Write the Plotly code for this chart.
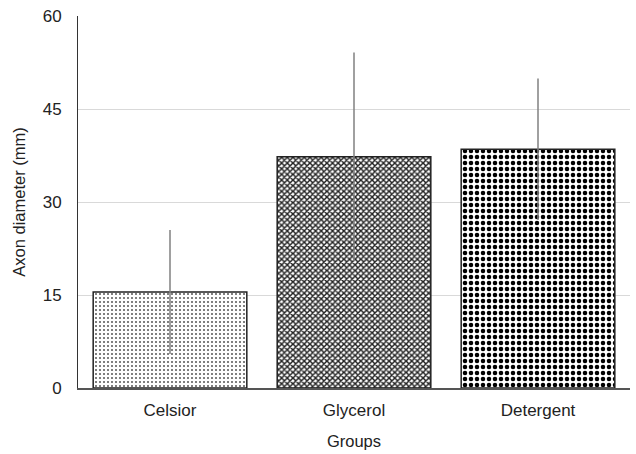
import plotly.graph_objects as go

categories = ["Celsior", "Glycerol", "Detergent"]
values = [15.5, 37.3, 38.5]
errors = [10.0, 16.8, 11.4]
y_ticks = [0, 15, 30, 45, 60]

shapes = [".", "x", "."]
fg = ["#555555", "#222222", "#000000"]
sizes = [4, 4, 6]
solid = [0.2, 0.6, 0.45]

fig = go.Figure()
for i, c in enumerate(categories):
    fig.add_trace(go.Bar(
        x=[c], y=[values[i]],
        error_y=dict(type="data", array=[errors[i]], color="#808080", thickness=1.5, width=0),
        marker=dict(color="white", line=dict(color="#222222", width=1.5),
                    pattern=dict(shape=shapes[i], fgcolor=fg[i], bgcolor="white",
                                 size=sizes[i], solidity=solid[i], fillmode="replace")),
        showlegend=False,
    ))

fig.update_layout(
    width=636, height=454,
    margin=dict(l=78, r=6, t=16, b=66),
    paper_bgcolor="white", plot_bgcolor="white",
    bargap=0.165, barmode="group",
    font=dict(family="Liberation Sans, Arial, sans-serif", size=17, color="#222222"),
)
fig.update_yaxes(
    range=[0, 60], tickvals=y_ticks, showgrid=True, gridcolor="#d9d9d9", gridwidth=1,
    showline=True, linecolor="#333333", linewidth=1, zeroline=False,
    ticks="", ticklabelstandoff=12,
    title=dict(text="Axon diameter (mm)", standoff=12, font=dict(size=16.5)),
)
fig.update_xaxes(
    showline=True, linecolor="#555555", linewidth=1.5, ticks="", ticklabelstandoff=6,
    title=dict(text="Groups", standoff=16, font=dict(size=16.5)),
)
fig.write_html("out.html")
